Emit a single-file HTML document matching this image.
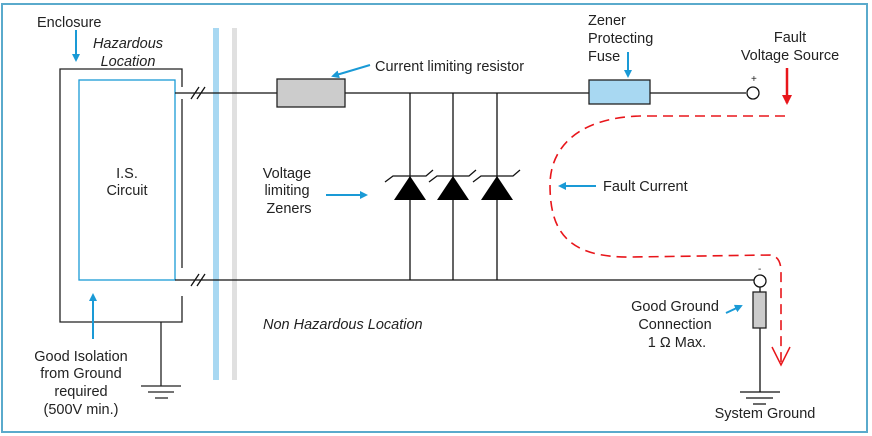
<!DOCTYPE html>
<html><head><meta charset="utf-8"><style>
html,body{margin:0;padding:0;background:#fff}
svg{display:block}
text{font-family:"Liberation Sans",sans-serif;font-size:14.5px;fill:#222}
</style></head><body>
<svg width="872" height="436" viewBox="0 0 872 436" xmlns="http://www.w3.org/2000/svg">
<defs>
<marker id="ab" markerWidth="8" markerHeight="8" refX="6" refY="4" orient="auto" markerUnits="userSpaceOnUse"><path d="M0,0 L8,4 L0,8 z" fill="#1a9ad6"/></marker>
<marker id="ar" markerWidth="10" markerHeight="10" refX="8" refY="5" orient="auto" markerUnits="userSpaceOnUse"><path d="M0,0 L10,5 L0,10 z" fill="#e8161b"/></marker>
</defs>
<rect x="2" y="4" width="865" height="428" fill="none" stroke="#5aaacc" stroke-width="2"/>
<rect x="213" y="28" width="6" height="352" fill="#a8d8f2"/>
<rect x="232" y="28" width="5" height="352" fill="#e0e0e0"/>
<path d="M182,87 V69 H60 V322 H182 V296 M182,99 V268" fill="none" stroke="#222" stroke-width="1.3"/>
<rect x="79" y="80" width="96" height="200" fill="none" stroke="#1a9ad6" stroke-width="1.3"/>
<path d="M161,322 V386 M141,386 H181 M148,392 H174 M155,398 H168" stroke="#222" stroke-width="1.3"/>
<path d="M175,93 H746 M175,280 H754" stroke="#111" stroke-width="1.3"/>
<path d="M191,99 L199,87 M197,99 L205,87 M191,286 L199,274 M197,286 L205,274" stroke="#111" stroke-width="1.3"/>
<rect x="277" y="79" width="68" height="28" fill="#cccccc" stroke="#222" stroke-width="1.3"/>
<rect x="589" y="80" width="61" height="24" fill="#a8d8f2" stroke="#222" stroke-width="1.3"/>
<circle cx="753" cy="93" r="6" fill="#fff" stroke="#111" stroke-width="1.3"/>
<circle cx="760" cy="281" r="6" fill="#fff" stroke="#111" stroke-width="1.3"/>
<text x="751" y="82" style="font-size:10px">+</text>
<text x="758" y="272" style="font-size:10px">-</text>
<path d="M760,287 V392 M740,392 H780 M746,398 H773 M753,404 H766" stroke="#111" stroke-width="1.3"/>
<rect x="753" y="292" width="13" height="36" fill="#cccccc" stroke="#222" stroke-width="1.3"/>
<g stroke="#111" stroke-width="1.3">
<path d="M410,93 V280 M453,93 V280 M497,93 V280"/>
<path d="M385,182 L393,176 H426 L433,170 M429,182 L437,176 H469 L476,170 M473,182 L481,176 H513 L520,170" fill="none"/>
</g>
<path d="M410,176 L394,200 H426 z M453,176 L437,200 H469 z M497,176 L481,200 H513 z" fill="#000"/>
<path d="M785,116 L640,116 C575,118 550,150 550,185 C550,232 568,258 632,257 L770,255 Q781,256 781,272 L781,364" fill="none" stroke="#e8161b" stroke-width="1.6" stroke-dasharray="10,6"/>
<path d="M772,347 L781,365 L790,347" fill="none" stroke="#e8161b" stroke-width="1.5"/>
<line x1="787" y1="68" x2="787" y2="103" stroke="#e8161b" stroke-width="2.5" marker-end="url(#ar)"/>
<g stroke="#1a9ad6" stroke-width="2" fill="none">
<line x1="76" y1="30" x2="76" y2="60" marker-end="url(#ab)"/>
<line x1="370" y1="65" x2="333" y2="76" marker-end="url(#ab)"/>
<line x1="628" y1="52" x2="628" y2="76" marker-end="url(#ab)"/>
<line x1="326" y1="195" x2="366" y2="195" marker-end="url(#ab)"/>
<line x1="596" y1="186" x2="560" y2="186" marker-end="url(#ab)"/>
<line x1="93" y1="339" x2="93" y2="295" marker-end="url(#ab)"/>
<line x1="726" y1="313" x2="741" y2="306" marker-end="url(#ab)"/>
</g>
<text x="37" y="27">Enclosure</text>
<text x="128" y="48" text-anchor="middle" font-style="italic">Hazardous</text>
<text x="128" y="66" text-anchor="middle" font-style="italic">Location</text>
<text x="127" y="178" text-anchor="middle">I.S.</text>
<text x="127" y="195" text-anchor="middle">Circuit</text>
<text x="375" y="71">Current limiting resistor</text>
<text x="287" y="178" text-anchor="middle">Voltage</text>
<text x="287" y="195" text-anchor="middle">limiting</text>
<text x="289" y="213" text-anchor="middle">Zeners</text>
<text x="263" y="329" font-style="italic">Non Hazardous Location</text>
<text x="588" y="25">Zener</text>
<text x="588" y="43">Protecting</text>
<text x="588" y="61">Fuse</text>
<text x="790" y="42" text-anchor="middle">Fault</text>
<text x="790" y="60" text-anchor="middle">Voltage Source</text>
<text x="603" y="191">Fault Current</text>
<text x="675" y="311" text-anchor="middle">Good Ground</text>
<text x="675" y="329" text-anchor="middle">Connection</text>
<text x="677" y="347" text-anchor="middle">1 Ω Max.</text>
<text x="765" y="418" text-anchor="middle">System Ground</text>
<text x="81" y="361" text-anchor="middle">Good Isolation</text>
<text x="81" y="378" text-anchor="middle">from Ground</text>
<text x="81" y="396" text-anchor="middle">required</text>
<text x="81" y="414" text-anchor="middle">(500V min.)</text>
</svg>
</body></html>
